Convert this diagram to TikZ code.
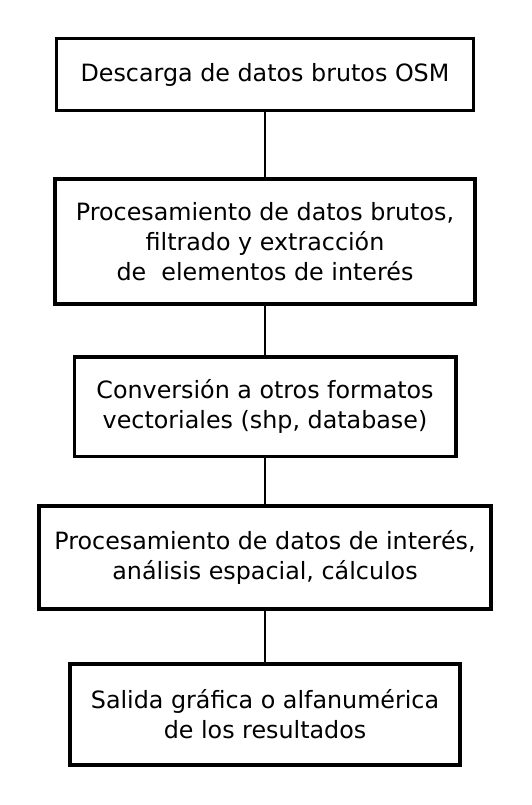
\documentclass[tikz,border=0pt]{standalone}
\usepackage{fontspec}
\setmainfont{DejaVu Sans}
\usetikzlibrary{positioning}

\begin{document}
\begin{tikzpicture}[x=1pt,y=1pt,font=\fontsize{23.8}{29.8}\selectfont,
            box/.style={draw=black,fill=white,inner sep=0pt,align=center},
            link/.style={draw=black,line width=1.5pt}]
          \useasboundingbox (0,0) rectangle (532,-805);
          \foreach \n/\y/\w/\h/\lw/\lab in {
              1/74.5/417/72/3/{Descarga de datos brutos OSM},
              2/241.5/420/125/4/{Procesamiento de datos brutos,\\filtrado y extracción\\de\ \ elementos de interés},
              3/406.5/381.5/99.5/3.5/{Conversión a otros formatos\\vectoriales (shp, database)},
              4/557.5/452/103/4/{Procesamiento de datos de interés,\\análisis espacial, cálculos},
              5/714.5/390/101/4/{Salida gráfica o alfanumérica\\de los resultados}}{
            \node[box,line width=\lw pt,minimum width=\w pt,minimum height=\h pt] (step\n) at (265,-\y) {\lab};}
          \foreach \a/\b in {1/2,2/3,3/4,4/5}{\draw[link] (step\a.south) -- (step\b.north);}
        \end{tikzpicture}
\end{document}
